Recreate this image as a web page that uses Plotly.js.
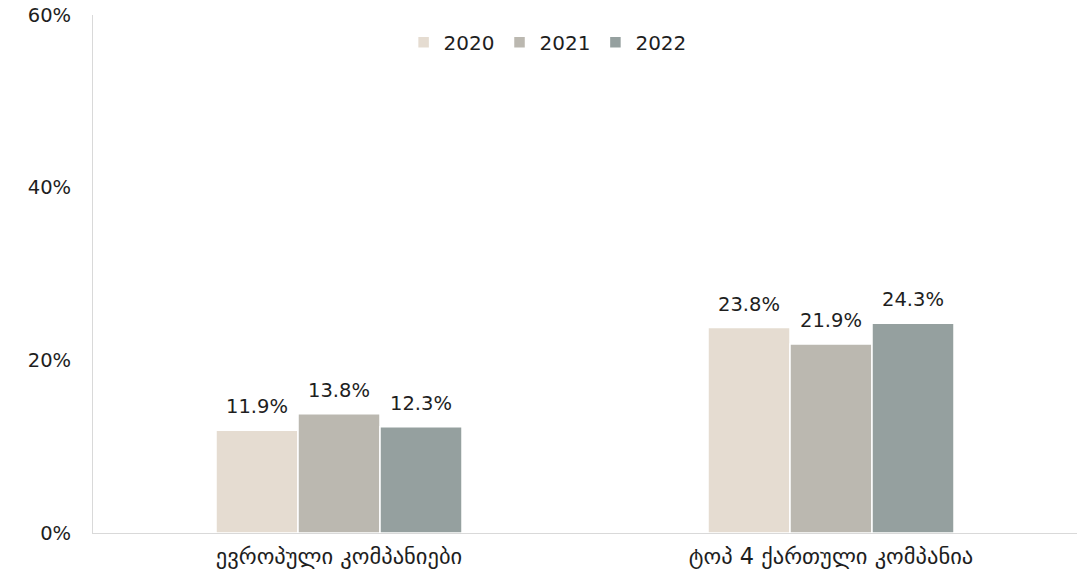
<!DOCTYPE html>
<html>
<head>
<meta charset="utf-8">
<script src="https://cdn.plot.ly/plotly-3.0.1.min.js"></script>
<style>
  html, body { margin: 0; padding: 0; background: #fff; }
  #chart { width: 1081px; height: 577px; }
</style>
</head>
<body>
<div id="chart"></div>
<script>
// Categories and yearly series (share, as fractions)
const categories = ['ევროპული კომპანიები', 'ტოპ 4 ქართული კომპანია'];
const years = ['2020', '2021', '2022'];
const values2020 = [0.119, 0.238];
const values2021 = [0.138, 0.219];
const values2022 = [0.123, 0.243];
const yearColors = ['#e5dcd1', '#bbb8b0', '#95a09f'];
const yTicks = [0, 0.2, 0.4, 0.6];

const FONT = '"DejaVu Sans", sans-serif';
const TEXT = '#1e1e1e';
const BARGAP = 0.5;

const series = [values2020, values2021, values2022];
const barW = (1 - BARGAP) / series.length;

const traces = series.map((vals, i) => ({
  type: 'bar',
  name: years[i],
  x: categories,
  y: vals,
  marker: { color: yearColors[i], line: { color: '#ffffff', width: 1.5 } },
  hoverinfo: 'skip',
}));

// value labels above each bar, a bit detached like the original
const annotations = [];
series.forEach((vals, i) => {
  const off = (i - (series.length - 1) / 2) * barW;
  vals.forEach((v, c) => {
    annotations.push({
      x: c + off,
      y: v,
      xref: 'x',
      yref: 'y',
      text: (v * 100).toFixed(1) + '%',
      showarrow: false,
      yanchor: 'bottom',
      yshift: 10,
      font: { family: FONT, size: 19.5, color: TEXT },
    });
  });
});

const layout = {
  width: 1081,
  height: 577,
  margin: { l: 93, r: 4, t: 15, b: 44 },
  paper_bgcolor: '#ffffff',
  plot_bgcolor: '#ffffff',
  font: { family: FONT, size: 19, color: TEXT },
  barmode: 'group',
  bargap: BARGAP,
  bargroupgap: 0,
  showlegend: true,
  legend: {
    orientation: 'h',
    x: 0.462,
    xanchor: 'center',
    y: 0.985,
    yanchor: 'top',
    font: { family: FONT, size: 20, color: TEXT },
    itemwidth: 30,
    tracegroupgap: 0,
  },
  annotations,
  xaxis: {
    showline: true,
    linecolor: '#d9d9d9',
    linewidth: 1,
    showgrid: false,
    ticks: '',
    ticklabelstandoff: 3,
    tickfont: { family: FONT, size: 22.5, color: TEXT },
  },
  yaxis: {
    range: [0, 0.6],
    tickvals: yTicks,
    ticktext: yTicks.map((t) => Math.round(t * 100) + '%'),
    showline: true,
    linecolor: '#d9d9d9',
    linewidth: 1,
    showgrid: false,
    zeroline: false,
    ticks: 'outside',
    ticklen: 17,
    tickcolor: 'rgba(0,0,0,0)',
    tickfont: { family: FONT, size: 19.5, color: TEXT },
  },
};

Plotly.newPlot('chart', traces, layout, { displayModeBar: false, staticPlot: true });
</script>
</body>
</html>
